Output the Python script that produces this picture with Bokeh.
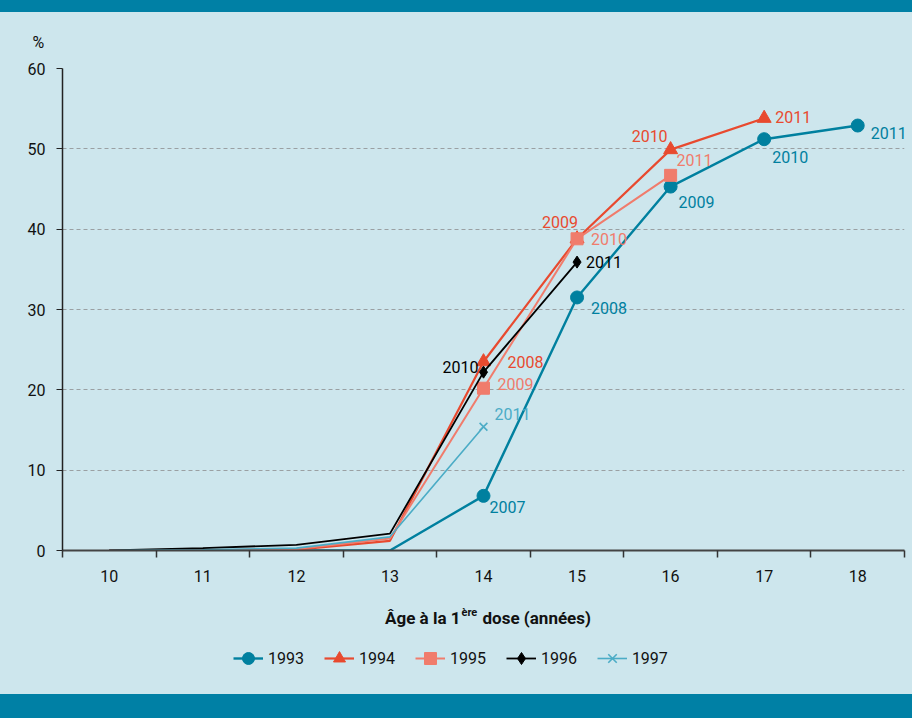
from bokeh.plotting import figure
from bokeh.models import (ColumnDataSource, FixedTicker, Label, Legend, LegendItem, Div)
from bokeh.layouts import column
from bokeh.core.properties import value
from bokeh.embed import file_html
from bokeh.resources import INLINE

# ---------------- data ----------------
ages = [10, 11, 12, 13, 14, 15, 16, 17, 18]
cohorts = ["1993", "1994", "1995", "1996", "1997"]
s1993 = [0, 0, 0, 0, 6.8, 31.5, 45.3, 51.2, 52.9]
s1994 = [0, 0, 0.1, 1.2, 23.5, 38.8, 49.9, 53.8]
s1995 = [0, 0, 0.2, 1.5, 20.2, 38.8, 46.7]
s1996 = [0, 0.3, 0.7, 2.1, 22.2, 35.9]
s1997 = [0, 0.1, 0.3, 1.7, 15.4]
first_labelled_age = 14
y_ticks = [0, 10, 20, 30, 40, 50, 60]
y_unit = "%"
x_title = ("Âge à la 1", "ère", "dose (années)")

series = [s1993, s1994, s1995, s1996, s1997]

# ---------------- styles ----------------
FONT = "Roboto"
BG = "#cde6ed"
BAND = "#0080a5"
TXT = "#111111"
colors = ["#00809f", "#e84a2f", "#f07c6c", "#000000", "#4bacc6"]
markers = ["circle", "triangle", "square", "diamond", "x"]
msizes = [13, 14, 12, 12, 11]
lwidths = [2.4, 2.2, 2.0, 1.8, 1.6]
# label offsets (px) and alignment, one per labelled point, per cohort
lab_off = [
    [(6, 11, "left"), (14, 11, "left"), (8, 15, "left"), (8, 18, "left"), (13, 7, "left")],
    [(24, 0, "left"), (1, -17, "right"), (-3, -14, "right"), (11, -1, "left")],
    [(14, -4, "left"), (14, 0, "left"), (6, -15, "left")],
    [(-5, -5, "right"), (9, 0, "left")],
    [(11, -13, "left")],
]

W = 912
BL, BR, FW = 62, 8, 842

p = figure(frame_width=FW, frame_height=482, x_range=(9.5, 18.5), y_range=(0, 60),
           output_backend="svg", toolbar_location=None,
           min_border_left=BL, min_border_right=BR, min_border_top=56, min_border_bottom=45,
           background_fill_color=BG, border_fill_color=BG, outline_line_color=None)
p.title.text = y_unit
p.title.align = "left"
p.title.offset = -30
p.title.standoff = 34
p.title.text_font = FONT
p.title.text_font_size = "16px"
p.title.text_font_style = "normal"
p.title.text_color = TXT

# axes
p.xaxis.ticker = FixedTicker(ticks=ages, minor_ticks=[a - 0.5 for a in ages] + [ages[-1] + 0.5])
p.xaxis.major_tick_out = 0
p.xaxis.major_tick_in = 0
p.xaxis.minor_tick_out = 7
p.xaxis.minor_tick_in = 0
p.xaxis.minor_tick_line_color = "#333333"
p.xaxis.minor_tick_line_width = 1.5
p.xaxis.axis_line_color = "#444444"
p.xaxis.axis_line_width = 2
p.xaxis.major_label_standoff = 12
p.yaxis.ticker = FixedTicker(ticks=y_ticks)
p.yaxis.major_tick_out = 6
p.yaxis.major_tick_in = 0
p.yaxis.minor_tick_line_color = None
p.yaxis.axis_line_color = "#222222"
p.yaxis.axis_line_width = 1.5
p.yaxis.major_tick_line_color = "#222222"
p.yaxis.major_label_standoff = 11
for ax in (p.xaxis, p.yaxis):
    ax.major_label_text_font = FONT
    ax.major_label_text_font_size = "16px"
    ax.major_label_text_color = TXT
p.xgrid.grid_line_color = None
p.ygrid.grid_line_color = "#9aa0a3"
p.ygrid.grid_line_dash = "4 3"
p.ygrid.grid_line_width = 1

# bottom strip: axis title + legend (page-pixel-like coordinates); transparent over the layout background
p2 = figure(frame_width=FW, frame_height=99, x_range=(BL, BL + FW), y_range=(0, 99),
            output_backend="svg", toolbar_location=None,
            min_border_left=BL, min_border_right=BR, min_border_top=0, min_border_bottom=0,
            background_fill_alpha=0, border_fill_alpha=0,
            outline_line_color=None, x_axis_location=None, y_axis_location=None)
p2.grid.visible = False

legend_items = []
for i, (name, vals) in enumerate(zip(cohorts, series)):
    xs = ages[:len(vals)]
    p.line(xs, vals, line_color=colors[i], line_width=lwidths[i])
    mx = [a for a in xs if a >= first_labelled_age]
    my = [v for a, v in zip(xs, vals) if a >= first_labelled_age]
    kw = dict(marker=markers[i], size=msizes[i])
    if markers[i] == "x":
        kw.update(line_color=colors[i], line_width=1.6)
    else:
        kw.update(fill_color=colors[i], line_color=colors[i])
    p.scatter(mx, my, **kw)
    years = [str(int(name) + a) for a in mx]
    offs = lab_off[i]
    src = ColumnDataSource(dict(x=mx, y=my, t=years,
                                xo=[o[0] for o in offs], yo=[o[1] for o in offs],
                                al=[o[2] for o in offs]))
    p.text("x", "y", text="t", source=src, x_offset="xo", y_offset="yo", text_align="al",
           text_baseline="middle", text_color=colors[i], text_font=value(FONT),
           text_font_size="16px")
    # legend proxies in the bottom strip (nothing visible is drawn)
    ln2 = p2.line([float("nan")], [float("nan")], line_color=colors[i], line_width=lwidths[i])
    sc2 = p2.scatter([float("nan")], [float("nan")], **kw)
    legend_items.append(LegendItem(label=name, renderers=[ln2, sc2]))

legend = Legend(items=legend_items, orientation="horizontal", location=(171, 20),
                glyph_width=30, glyph_height=32, label_standoff=5, spacing=20,
                padding=0, margin=0, background_fill_alpha=0, border_line_color=None,
                label_text_font=FONT, label_text_font_size="16px", label_text_color=TXT,
                label_height=18)
p2.add_layout(legend, "center")

p2.add_layout(Label(x=460, y=77, text=x_title[0], text_align="right", text_baseline="middle",
                    text_font=FONT, text_font_size="17px", text_font_style="bold", text_color=TXT))
p2.add_layout(Label(x=461, y=82, text=x_title[1], text_align="left", text_baseline="middle",
                    text_font=FONT, text_font_size="11px", text_font_style="bold", text_color=TXT))
p2.add_layout(Label(x=482, y=77, text=x_title[2], text_align="left", text_baseline="middle",
                    text_font=FONT, text_font_size="17px", text_font_style="bold", text_color=TXT))

top = Div(width=W, height=12, margin=0, styles={"background-color": BAND})
bottom = Div(width=W, height=24, margin=0, styles={"background-color": BAND})
layout = column(top, p, p2, bottom, spacing=0, styles={"background-color": BG})

open("out.html", "w").write(file_html(layout, INLINE))
